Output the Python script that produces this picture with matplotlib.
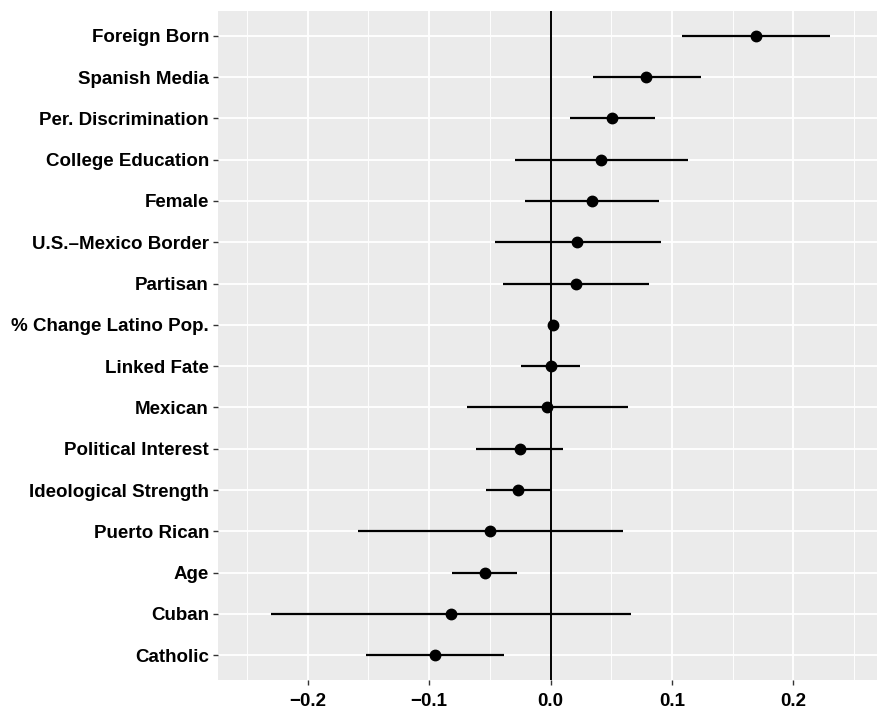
import matplotlib
matplotlib.use("Agg")
import matplotlib.pyplot as plt
from matplotlib.ticker import FixedLocator

# -----------------------------------------------------------------------------
# Data (top row first)
# -----------------------------------------------------------------------------
labels = [
    "Foreign Born", "Spanish Media", "Per. Discrimination", "College Education",
    "Female", "U.S.\u2013Mexico Border", "Partisan", "% Change Latino Pop.",
    "Linked Fate", "Mexican", "Political Interest", "Ideological Strength",
    "Puerto Rican", "Age", "Cuban", "Catholic",
]
estimates = [0.169, 0.079, 0.051, 0.042, 0.034, 0.022, 0.021, 0.002,
             0.000, -0.003, -0.025, -0.027, -0.050, -0.054, -0.082, -0.095]
ci_low = [0.108, 0.035, 0.016, -0.029, -0.021, -0.046, -0.039, 0.001,
          -0.024, -0.069, -0.061, -0.053, -0.159, -0.081, -0.230, -0.152]
ci_high = [0.230, 0.124, 0.086, 0.113, 0.089, 0.091, 0.081, 0.003,
           0.024, 0.064, 0.010, 0.000, 0.060, -0.028, 0.066, -0.038]
x_ticks = [-0.2, -0.1, 0.0, 0.1, 0.2]

plt.rcParams["font.family"] = ["Liberation Sans", "DejaVu Sans"]
plt.rcParams["font.weight"] = "bold"

W, H = 877, 714
fig = plt.figure(figsize=(W / 100, H / 100), dpi=100)

# panel spans px 218..883 horizontally (cropped at the right) and 11..680 vertically
ax = fig.add_axes([218 / W, (H - 680) / H, (883 - 218) / W, (680 - 11) / H])
ax.set_facecolor("#EBEBEB")
for s in ax.spines.values():
    s.set_visible(False)

n = len(labels)
ypos = list(range(n - 1, -1, -1))

ax.set_xlim(-0.274, 0.274)
ax.set_ylim(-0.6, n - 1 + 0.6)

ax.xaxis.set_major_locator(FixedLocator(x_ticks))
ax.xaxis.set_minor_locator(FixedLocator([-0.25, -0.15, -0.05, 0.05, 0.15, 0.25]))
ax.set_yticks(ypos)
ax.set_yticklabels(labels)
ax.set_xticklabels([f"{t:.1f}".replace("-", "\u2212") for t in x_ticks])

ax.grid(which="major", color="white", linewidth=1.3)
ax.grid(which="minor", axis="x", color="white", linewidth=0.65)
ax.set_axisbelow(True)

ax.tick_params(axis="both", which="major", length=3.5, width=1.0, color="#333333",
               labelsize=13.5, labelcolor="black")
ax.tick_params(axis="y", pad=3)
ax.tick_params(axis="x", pad=6)
ax.tick_params(axis="x", which="minor", length=0)
for lab in ax.get_xticklabels() + ax.get_yticklabels():
    lab.set_fontweight("bold")

ax.axvline(0, color="black", linewidth=1.4, zorder=2)
ax.hlines(ypos, ci_low, ci_high, color="black", linewidth=1.6, zorder=3)
ax.plot(estimates, ypos, "o", color="black", markersize=7.5, zorder=4)

fig.savefig("out.png", dpi=100)
